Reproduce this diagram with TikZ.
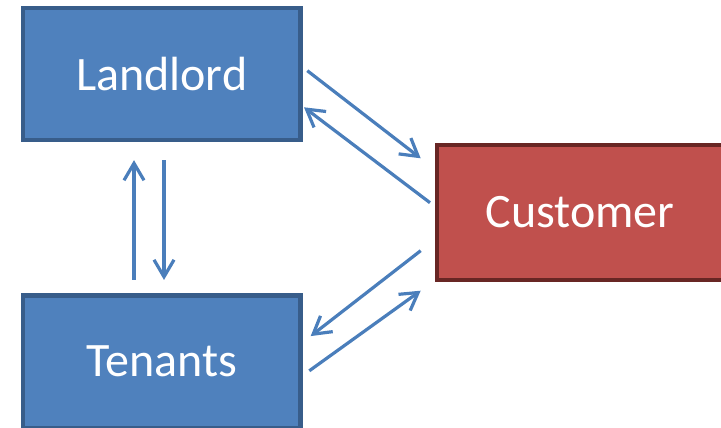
\documentclass[tikz,border=0pt]{standalone}
\usepackage{fontspec}
\setmainfont{Carlito}
\usetikzlibrary{arrows.meta,positioning}
\definecolor{boxblue}{HTML}{4F81BD}
\definecolor{boxblueline}{HTML}{385D8A}
\definecolor{boxred}{HTML}{C0504D}
\definecolor{boxredline}{HTML}{682624}
\definecolor{linkblue}{HTML}{4A7EBB}

\begin{document}
\begin{tikzpicture}[
  x=1pt,y=1pt,
  font=\fontsize{48}{56}\selectfont,
  party/.style={draw=boxblueline,fill=boxblue,line width=4.4pt,
    minimum width=277.6pt,minimum height=132.3pt,inner sep=0pt,
    outer sep=0pt,text=white,align=center},
  client/.style={party,draw=boxredline,fill=boxred,
    minimum width=286.4pt,minimum height=135.4pt},
  arr/.style={-{Straight Barb[length=17pt,width=20pt]},
    line width=3.2pt,color=linkblue},
]
\useasboundingbox (0,0) rectangle (721,-428);
\node[party]  (landlord) at (161.7,-74)   {Landlord};
\node[party]  (tenants)  at (161.7,-361.6) {Tenants};
\node[client] (customer) at (580,-212.5)  {Customer};
% landlord <-> tenants
\draw[arr] ([xshift=-27.7pt,yshift=15.5pt]tenants.north) -- ([xshift=-27.7pt,yshift=-20pt]landlord.south);
\draw[arr] ([xshift=2.3pt,yshift=-20pt]landlord.south) -- ([xshift=2.3pt,yshift=15.5pt]tenants.north);
% landlord <-> customer
\draw[arr] ([shift={(6.8,3.3)}]landlord.east) -- ([shift={(-16.1,54.2)}]customer.west);
\draw[arr] ([shift={(-6.8,9.8)}]customer.west) -- ([shift={(3.5,-33.3)}]landlord.east);
% customer <-> tenants
\draw[arr] ([shift={(-16.1,-38.2)}]customer.west) -- ([shift={(10.2,25.5)}]tenants.east);
\draw[arr] ([shift={(8.8,-9.2)}]tenants.east) -- ([shift={(-16.1,-78.2)}]customer.west);
\end{tikzpicture}
\end{document}
